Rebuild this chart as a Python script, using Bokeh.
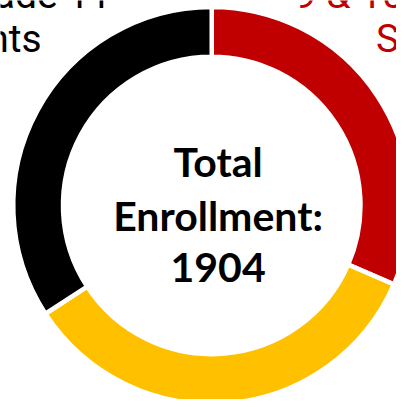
import math
from bokeh.plotting import figure
from bokeh.models import Range1d, ColumnDataSource
from bokeh.core.properties import value
from bokeh.embed import file_html
from bokeh.resources import INLINE

# Data
categories = ["Grade 9 & 10 Students", "Grade 10 Students", "Grade 11 Students"]
counts = [600, 653, 651]
colors = ["#C00000", "#FFC000", "#000000"]
total_label = ["Total", "Enrollment:", "1904"]

total = sum(counts)
starts, ends = [], []
cum = 0
for c in counts:
    a0 = math.pi / 2 - 2 * math.pi * cum / total
    cum += c
    a1 = math.pi / 2 - 2 * math.pi * cum / total
    starts.append(a1)
    ends.append(a0)

src = ColumnDataSource(dict(cat=categories, val=counts, color=colors, start=starts, end=ends))

p = figure(width=396, height=399, output_backend="svg", toolbar_location=None,
           x_range=Range1d(-215.5, 188.5), y_range=Range1d(-198, 209),
           min_border=0)
p.axis.visible = False
p.grid.visible = False
p.outline_line_color = None
p.background_fill_color = "white"
p.border_fill_color = "white"

p.annular_wedge(x=0, y=0, inner_radius=151.75, outer_radius=202.5,
                start_angle="start", end_angle="end", direction="anticlock",
                fill_color="color", line_color="white", line_width=4.5, source=src)

# Centre label
ys = [45, -10, -63]
p.text(x=[6.5] * 3, y=ys, text=total_label, text_font=value("Lato"),
       text_font_style="bold", text_font_size="41px", text_align="center",
       text_baseline="alphabetic", text_color="#000000")

# Side labels (cropped in view)
p.text(x=[-102.5, -173.5], y=[215, 170], text=["Grade 11", "Students"],
       text_font=value("Roboto"), text_font_size="39px", text_align="right",
       text_baseline="alphabetic", text_color="#000000")
p.text(x=[84.5, 167.5], y=[215, 170], text=["9 & 10", "Students"],
       text_font=value("Roboto"), text_font_size="39px", text_align="left",
       text_baseline="alphabetic", text_color="#C00000")

open("out.html", "w").write(file_html(p, INLINE))
